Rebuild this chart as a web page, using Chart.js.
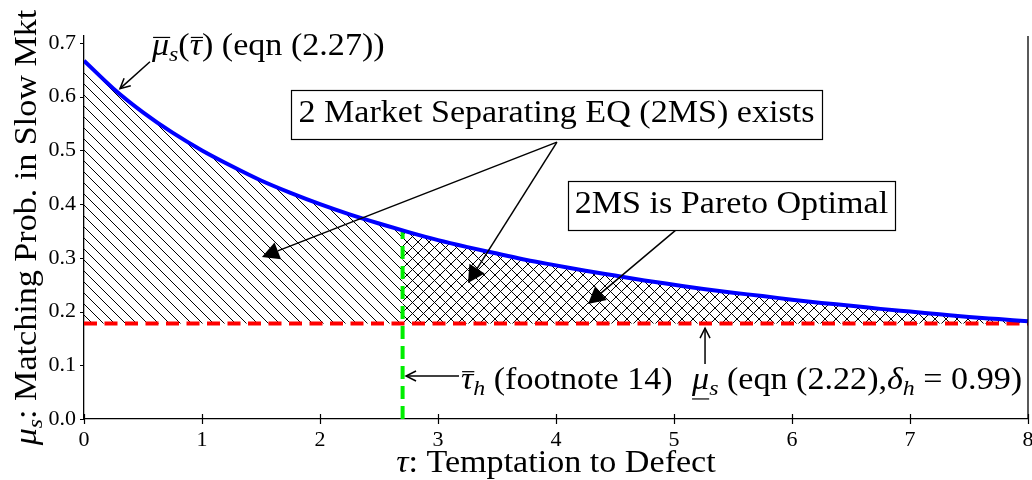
<!DOCTYPE html>
<html>
<head>
<meta charset="utf-8">
<script src="https://cdn.jsdelivr.net/npm/chart.js@4/dist/chart.umd.min.js"></script>
<style>
  html, body { margin: 0; padding: 0; background: #fff; }
  canvas { display: block; }
</style>
</head>
<body>
<canvas id="c" width="1032" height="480"></canvas>
<script>
// Temptation to defect (tau) and the upper bound of the slow-market matching probability
const tau = [0, 0.25, 0.5, 0.75, 1, 1.25, 1.5, 1.75, 2, 2.25, 2.5, 2.75, 3, 3.25, 3.5, 3.75,
             4, 4.25, 4.5, 4.75, 5, 5.25, 5.5, 5.75, 6, 6.25, 6.5, 6.75, 7, 7.25, 7.5, 7.75, 8];
const muBar = [0.667, 0.615, 0.571, 0.533, 0.500, 0.471, 0.444, 0.421, 0.400, 0.381, 0.364, 0.348,
               0.333, 0.320, 0.308, 0.296, 0.286, 0.276, 0.267, 0.258, 0.250, 0.242, 0.235, 0.229,
               0.222, 0.216, 0.211, 0.205, 0.200, 0.195, 0.190, 0.186, 0.182];
// Lower bound (eqn 2.22, delta_h = 0.99) and the threshold tau_h (footnote 14)
const muLow = 0.178;
const tauH = 2.7;
const muBarAtTauH = 0.351;
// Axis ticks
const xTicks = [0, 1, 2, 3, 4, 5, 6, 7, 8];
const yTicks = [0.0, 0.1, 0.2, 0.3, 0.4, 0.5, 0.6, 0.7];

const SERIF = "'Liberation Serif', 'DejaVu Serif', serif";
const TXT = 31;       // annotation / axis-title size
const WIDEN = 1.1;    // horizontal widening of the serif face
const TICK = 22;      // tick-label size

const curve = tau.map((t, i) => ({ x: t, y: muBar[i] }));
const leftPart = curve.filter(p => p.x < tauH).concat([{ x: tauH, y: muBarAtTauH }]);
const rightPart = [{ x: tauH, y: muBarAtTauH }].concat(curve.filter(p => p.x > tauH));

const canvas = document.getElementById('c');
const ctx = canvas.getContext('2d');

// Hatch tiles: single diagonal ("\\") and cross ("x")
function hatch(step, cross) {
  const t = document.createElement('canvas');
  t.width = step; t.height = step;
  const g = t.getContext('2d');
  g.strokeStyle = '#000';
  g.lineWidth = 1;
  g.beginPath();
  for (let k = -1; k <= 1; k++) {
    g.moveTo(k * step, 0); g.lineTo(k * step + step, step);
    if (cross) { g.moveTo(k * step + step, 0); g.lineTo(k * step, step); }
  }
  g.stroke();
  return ctx.createPattern(t, 'repeat');
}
const diagPattern = hatch(11, false);
const crossPattern = hatch(11, true);

// ---- rich text (italic, sub, over/underline) ----
function fontFor(p, size) {
  return (p.it ? 'italic ' : '') + (p.sub ? size * 0.7 : size) + 'px ' + SERIF;
}
function richWidth(g, parts, size) {
  let w = 0;
  for (const p of parts) { g.font = fontFor(p, size); w += g.measureText(p.t).width; }
  return w;
}
// draws in a horizontally widened frame anchored at (x, y)
function drawRich(g, x, y, parts, size, align) {
  const total = richWidth(g, parts, size);
  g.save();
  g.translate(x, y);
  g.scale(WIDEN, 1);
  let cx = align === 'center' ? -total / 2 : 0;
  g.fillStyle = '#000';
  g.strokeStyle = '#000';
  g.textBaseline = 'alphabetic';
  g.textAlign = 'left';
  for (const p of parts) {
    g.font = fontFor(p, size);
    const w = g.measureText(p.t).width;
    const yy = p.sub ? size * 0.2 : 0;
    g.fillText(p.t, cx, yy);
    if (p.over) {
      g.lineWidth = 1.2;
      g.beginPath(); g.moveTo(cx + 1, -size * 0.56); g.lineTo(cx + w + 1, -size * 0.56); g.stroke();
    }
    if (p.under) {
      g.lineWidth = 1.2;
      g.beginPath(); g.moveTo(cx, size * 0.32); g.lineTo(cx + w, size * 0.32); g.stroke();
    }
    cx += w;
  }
  g.restore();
  return total * WIDEN;
}

// ---- arrows ----
function openArrow(g, x1, y1, x2, y2) {
  const a = Math.atan2(y2 - y1, x2 - x1), L = 10, H = 5;
  g.strokeStyle = '#000'; g.lineWidth = 1.5;
  g.beginPath(); g.moveTo(x1, y1); g.lineTo(x2, y2); g.stroke();
  g.beginPath();
  g.moveTo(x2 - L * Math.cos(a) + H * Math.sin(a), y2 - L * Math.sin(a) - H * Math.cos(a));
  g.lineTo(x2, y2);
  g.lineTo(x2 - L * Math.cos(a) - H * Math.sin(a), y2 - L * Math.sin(a) + H * Math.cos(a));
  g.stroke();
}
function solidArrow(g, x1, y1, x2, y2) {
  const a = Math.atan2(y2 - y1, x2 - x1), L = 17, H = 9;
  const bx = x2 - L * Math.cos(a), by = y2 - L * Math.sin(a);
  g.strokeStyle = '#000'; g.fillStyle = '#000'; g.lineWidth = 1.5;
  g.beginPath(); g.moveTo(x1, y1); g.lineTo(bx, by); g.stroke();
  g.beginPath();
  g.moveTo(x2, y2);
  g.lineTo(bx + H * Math.sin(a), by - H * Math.cos(a));
  g.lineTo(bx - H * Math.sin(a), by + H * Math.cos(a));
  g.closePath(); g.fill();
}
function boxedText(g, cx, base, text, size) {
  g.font = size + 'px ' + SERIF;
  const w = g.measureText(text).width * WIDEN;
  const pad = 7;
  const x0 = Math.round(cx - w / 2 - pad) + 0.5, x1 = Math.round(cx + w / 2 + pad) + 0.5;
  const y0 = Math.round(base - 32) + 0.5, y1 = Math.round(base + 17) + 0.5;
  g.fillStyle = '#fff';
  g.fillRect(x0, y0, x1 - x0, y1 - y0);
  g.strokeStyle = '#000'; g.lineWidth = 1.2;
  g.strokeRect(x0, y0, x1 - x0, y1 - y0);
  drawRich(g, cx, base, [{ t: text }], size, 'center');
}

// Axes frame pieces, tick marks and all labelled annotations
const decorations = {
  id: 'decorations',
  afterDraw(chart) {
    const g = chart.ctx, xs = chart.scales.x, ys = chart.scales.y, area = chart.chartArea;
    const X = v => xs.getPixelForValue(v), Y = v => ys.getPixelForValue(v);
    g.save();
    // right spine
    g.strokeStyle = '#000'; g.lineWidth = 1.3;
    g.beginPath(); g.moveTo(area.right, area.top); g.lineTo(area.right, area.bottom); g.stroke();
    // tick marks
    g.lineWidth = 1.2;
    g.beginPath();
    for (const v of xTicks) { const px = Math.round(X(v)) + 0.5; g.moveTo(px, area.bottom - 5); g.lineTo(px, area.bottom + 5); }
    for (const v of yTicks) { const py = Math.round(Y(v)) + 0.5; g.moveTo(area.left - 4, py); g.lineTo(area.left, py); }
    g.stroke();

    // upper bound label
    drawRich(g, X(0.576), Y(0.678), [
      { t: 'μ', it: 1, over: 1 }, { t: 's', it: 1, sub: 1 }, { t: '(' },
      { t: 'τ', it: 1, over: 1 }, { t: ') (eqn (2.27))' }], TXT, 'left');
    openArrow(g, X(0.559), Y(0.665), X(0.305), Y(0.615));

    // existence region
    solidArrow(g, X(4.008), Y(0.5155), X(1.508), Y(0.3015));
    solidArrow(g, X(4.008), Y(0.5155), X(3.254), Y(0.2531));
    boxedText(g, X(4.004), Y(0.5535), '2 Market Separating EQ (2MS) exists', TXT);

    // Pareto-optimal region
    solidArrow(g, X(5.025), Y(0.3536), X(4.271), Y(0.2140));
    boxedText(g, X(5.487), Y(0.3833), '2MS is Pareto Optimal', TXT);

    // threshold and lower-bound labels
    openArrow(g, X(3.178), Y(0.080), X(2.729), Y(0.080));
    drawRich(g, X(3.195), Y(0.0558), [
      { t: 'τ', it: 1, over: 1 }, { t: 'h', it: 1, sub: 1 }, { t: ' (footnote 14)' }], TXT, 'left');
    openArrow(g, X(5.263), Y(0.1024), X(5.263), Y(0.1693));
    drawRich(g, X(5.153), Y(0.0558), [
      { t: 'μ', it: 1, under: 1 }, { t: 's', it: 1, sub: 1 }, { t: ' (eqn (2.22),' },
      { t: 'δ', it: 1 }, { t: 'h', it: 1, sub: 1 }, { t: ' = 0.99)' }], TXT, 'left');

    // axis titles
    drawRich(g, (area.left + area.right) / 2, 472, [
      { t: 'τ', it: 1 }, { t: ': Temptation to Defect' }], TXT, 'center');
    g.save();
    g.translate(36, (area.top + area.bottom) / 2);
    g.rotate(-Math.PI / 2);
    drawRich(g, 0, 0, [
      { t: 'μ', it: 1 }, { t: 's', it: 1, sub: 1 }, { t: ': Matching Prob. in Slow Mkt' }], TXT, 'center');
    g.restore();
    g.restore();
  }
};

new Chart(canvas, {
  type: 'line',
  data: {
    datasets: [
      { data: curve, borderColor: '#0000ff', borderWidth: 4, pointRadius: 0,
        cubicInterpolationMode: 'monotone', fill: false, order: 0 },
      { data: [{ x: tauH, y: 0 }, { x: tauH, y: muBarAtTauH }], borderColor: '#00ee00',
        borderWidth: 4, borderDash: [13, 7], pointRadius: 0, fill: false, order: 1 },
      { data: [{ x: 0, y: muLow }, { x: 8, y: muLow }], borderColor: '#ff0000',
        borderWidth: 4, borderDash: [13, 7.5], pointRadius: 0, fill: false, order: 2 },
      { data: leftPart, borderColor: 'rgba(0,0,0,0)', borderWidth: 0, pointRadius: 0,
        cubicInterpolationMode: 'monotone', backgroundColor: diagPattern, fill: { value: muLow }, order: 3 },
      { data: rightPart, borderColor: 'rgba(0,0,0,0)', borderWidth: 0, pointRadius: 0,
        cubicInterpolationMode: 'monotone', backgroundColor: crossPattern, fill: { value: muLow }, order: 4 }
    ]
  },
  options: {
    responsive: false,
    animation: false,
    devicePixelRatio: 1,
    layout: { autoPadding: false, padding: { top: 36, right: 4, left: 0, bottom: 0 } },
    plugins: { legend: { display: false }, tooltip: { enabled: false } },
    scales: {
      x: {
        type: 'linear', min: 0, max: 8,
        afterBuildTicks: s => { s.ticks = xTicks.map(v => ({ value: v })); },
        afterFit: s => { s.height = 61; s.paddingLeft = 0; s.paddingRight = 0; },
        grid: { display: false, drawTicks: false },
        border: { display: true, color: '#000', width: 1.3 },
        ticks: { padding: 8, color: '#000', font: { family: SERIF, size: TICK },
                 maxRotation: 0, callback: v => String(v) }
      },
      y: {
        type: 'linear', min: 0, max: 0.713,
        afterBuildTicks: s => { s.ticks = yTicks.map(v => ({ value: v })); },
        afterFit: s => { s.width = 84; s.paddingTop = 0; s.paddingBottom = 0; },
        grid: { display: false, drawTicks: false },
        border: { display: true, color: '#000', width: 1.3 },
        ticks: { padding: 8, color: '#000', font: { family: SERIF, size: TICK },
                 callback: v => Number(v).toFixed(1) }
      }
    }
  },
  plugins: [decorations]
});
</script>
</body>
</html>
